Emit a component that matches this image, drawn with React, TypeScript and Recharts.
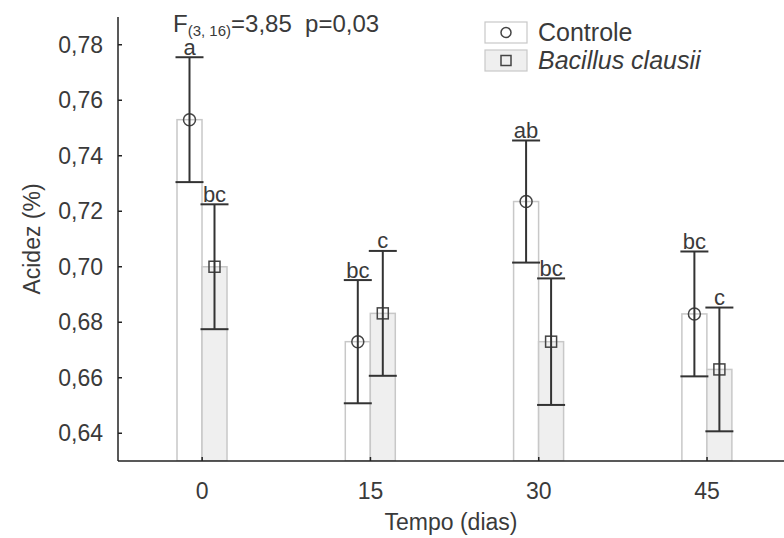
import {
  Bar,
  ComposedChart,
  ErrorBar,
  LabelList,
  XAxis,
  YAxis,
} from "recharts";

const tempo = [0, 15, 30, 45];
const controleMedia = [0.753, 0.673, 0.7235, 0.683];
const controleErro = [0.0225, 0.0222, 0.022, 0.0225];
const controleLetras = ["a", "bc", "ab", "bc"];
const bacillusMedia = [0.7, 0.6832, 0.673, 0.663];
const bacillusErro = [0.0225, 0.0225, 0.0228, 0.0223];
const bacillusLetras = ["bc", "c", "bc", "c"];
const yTicks = [0.64, 0.66, 0.68, 0.7, 0.72, 0.74, 0.76, 0.78];
const xTicks = [0, 15, 30, 45];

const Y_MIN = 0.63;
const Y_MAX = 0.79;
const FONT = "'Liberation Sans', Arial, sans-serif";
const TEXT = "#3a3a3a";

const data = tempo.map((t, i) => ({
  t,
  controle: controleMedia[i],
  controleErr: controleErro[i],
  controleLetra: controleLetras[i],
  bacillus: bacillusMedia[i],
  bacillusErr: bacillusErro[i],
  bacillusLetra: bacillusLetras[i],
}));

function ControleShape(props: any) {
  const { x, y, width, height } = props;
  return (
    <g>
      <rect x={x} y={y} width={width} height={height} fill="#ffffff" stroke="#c8c8c8" strokeWidth={1.5} />
      <circle cx={x + width / 2} cy={y} r={6} fill="none" stroke="#444" strokeWidth={1.5} />
    </g>
  );
}

function BacillusShape(props: any) {
  const { x, y, width, height } = props;
  return (
    <g>
      <rect x={x} y={y} width={width} height={height} fill="#efefef" stroke="#c8c8c8" strokeWidth={1.5} />
      <rect x={x + width / 2 - 5.5} y={y - 5.5} width={11} height={11} fill="none" stroke="#444" strokeWidth={1.5} />
    </g>
  );
}

// letter sits just above the upper whisker; whisker offset derived from the bar's own px/unit
function letterLabel(medias: number[], erros: number[]) {
  return (props: any) => {
    const { x, y, width, height, index, value } = props;
    const m = medias[index];
    const k = height / (m - Y_MIN);
    const yTop = y - erros[index] * k;
    return (
      <text x={x + width / 2} y={yTop - 2.5} textAnchor="middle" fontSize={22} fill={TEXT} fontFamily={FONT}>
        {value}
      </text>
    );
  };
}

function YTitle(props: any) {
  const vb = props.viewBox ?? { x: 0, y: 17, width: 118, height: 444 };
  const cx = vb.x + 32;
  const cy = vb.y + vb.height / 2;
  return (
    <text x={cx} y={cy} transform={`rotate(-90 ${cx} ${cy})`} textAnchor="middle" dominantBaseline="central" fontSize={23} fill={TEXT} fontFamily={FONT}>
      Acidez (%)
    </text>
  );
}

export default function App() {
  return (
    <div style={{ position: "absolute", left: 0, top: 0, width: 784, height: 538, background: "#fff", fontFamily: FONT }}>
      <ComposedChart width={784} height={538} data={data} margin={{ top: 17, right: 0, bottom: 0, left: 0 }} barGap={0}>
        <XAxis
          dataKey="t"
          type="number"
          domain={[-7.5, 51.86]}
          ticks={xTicks}
          allowDataOverflow
          height={77}
          stroke="#222"
          strokeWidth={1.5}
          tickSize={-4}
          tickMargin={26}
          tick={{ fontSize: 23, fill: TEXT, fontFamily: FONT }}
          label={{ value: "Tempo (dias)", position: "insideBottom", offset: 8, fontSize: 23, fill: TEXT, fontFamily: FONT }}
        />
        <YAxis
          type="number"
          domain={[Y_MIN, Y_MAX]}
          ticks={yTicks}
          allowDataOverflow
          width={118}
          stroke="#222"
          strokeWidth={1.5}
          tickSize={-4}
          tickMargin={19}
          tick={{ fontSize: 23, fill: TEXT, fontFamily: FONT }}
          tickFormatter={(v) => Number(v).toFixed(2).replace(".", ",")}
          label={<YTitle />}
        />
        <Bar dataKey="controle" name="Controle" barSize={25} shape={<ControleShape />} isAnimationActive={false}>
          <ErrorBar dataKey="controleErr" width={14} stroke="#333" strokeWidth={2} direction="y" />
          <LabelList dataKey="controleLetra" content={letterLabel(controleMedia, controleErro)} />
        </Bar>
        <Bar dataKey="bacillus" name="Bacillus clausii" barSize={25} shape={<BacillusShape />} isAnimationActive={false}>
          <ErrorBar dataKey="bacillusErr" width={14} stroke="#333" strokeWidth={2} direction="y" />
          <LabelList dataKey="bacillusLetra" content={letterLabel(bacillusMedia, bacillusErro)} />
        </Bar>
      </ComposedChart>
      <svg width={784} height={80} style={{ position: "absolute", left: 0, top: 0, pointerEvents: "none" }}>
        <text x={173} y={32} fontSize={24} fill={TEXT} fontFamily={FONT}>
          F
          <tspan fontSize={15} dy={4}>(3, 16)</tspan>
          <tspan fontSize={24} dy={-4}>=3,85{"\u00a0\u00a0"}p=0,03</tspan>
        </text>
        <rect x={485} y={22} width={42} height={21} fill="#fff" stroke="#c8c8c8" strokeWidth={1.2} />
        <circle cx={506} cy={32.5} r={5} fill="none" stroke="#444" strokeWidth={1.5} />
        <text x={538} y={41} fontSize={25} fill={TEXT} fontFamily={FONT}>Controle</text>
        <rect x={485} y={50} width={42} height={21} fill="#efefef" stroke="#c8c8c8" strokeWidth={1.2} />
        <rect x={501} y={55.5} width={10} height={10} fill="none" stroke="#444" strokeWidth={1.5} />
        <text x={538} y={69} fontSize={25} fontStyle="italic" fill={TEXT} fontFamily={FONT}>Bacillus clausii</text>
      </svg>
    </div>
  );
}
